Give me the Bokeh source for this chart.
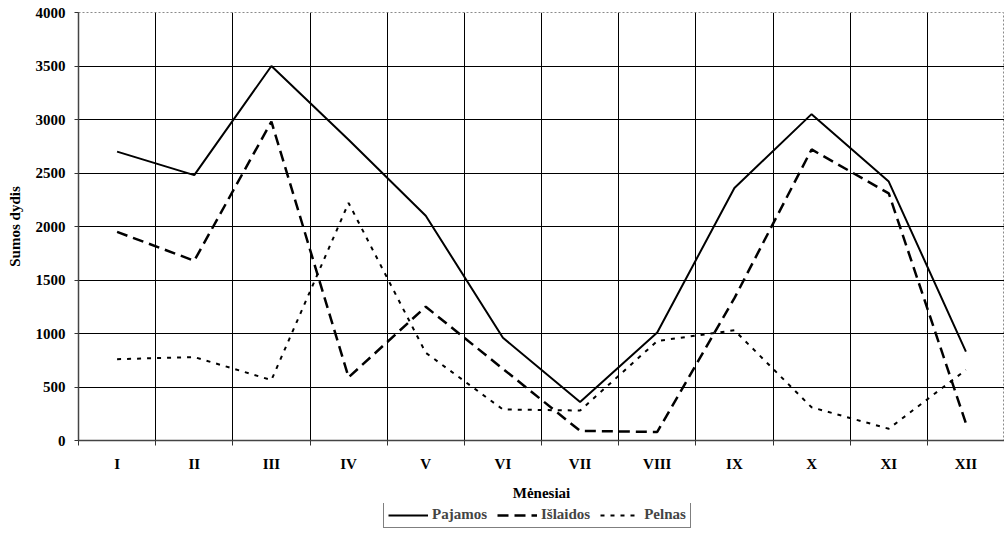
from bokeh.plotting import figure
from bokeh.layouts import column
from bokeh.models import FixedTicker, Range1d, Legend, LegendItem, ColumnDataSource
from bokeh.embed import file_html
from bokeh.resources import INLINE

months = ["I", "II", "III", "IV", "V", "VI", "VII", "VIII", "IX", "X", "XI", "XII"]
pajamos = [2700, 2480, 3500, 2810, 2100, 960, 360, 1010, 2360, 3050, 2420, 830]
islaidos = [1950, 1680, 2980, 590, 1250, 670, 90, 80, 1330, 2720, 2310, 160]
pelnas = [760, 780, 565, 2220, 820, 290, 280, 930, 1030, 310, 110, 660]
y_ticks = [0, 500, 1000, 1500, 2000, 2500, 3000, 3500, 4000]

xs = [i + 0.5 for i in range(len(months))]
src = ColumnDataSource(dict(x=xs, paj=pajamos, isl=islaidos, pel=pelnas))

FONT = "Liberation Serif"

p = figure(frame_width=926, frame_height=428, output_backend="svg", toolbar_location=None,
           x_range=Range1d(0, len(months)), y_range=Range1d(0, 4000),
           min_border_left=78, min_border_right=0, min_border_top=12, min_border_bottom=0)
p.background_fill_color = "white"
p.border_fill_color = "white"
p.outline_line_color = "#8a8a8a"
p.outline_line_dash = "2 2"
p.outline_line_width = 1

# x axis: labels at category centres, tick marks at boundaries
p.xaxis.ticker = FixedTicker(ticks=xs, minor_ticks=list(range(len(months) + 1)))
p.xaxis.major_label_overrides = {x: m for x, m in zip(xs, months)}
p.xaxis.major_tick_out = 0
p.xaxis.major_tick_in = 0
p.xaxis.minor_tick_out = 5
p.xaxis.minor_tick_in = 0
p.xaxis.minor_tick_line_color = "#333333"
p.xaxis.major_label_standoff = 10
p.xaxis.axis_label = "Mėnesiai"
p.xaxis.axis_label_standoff = 10

p.yaxis.ticker = FixedTicker(ticks=y_ticks, minor_ticks=[])
p.yaxis.major_tick_out = 4
p.yaxis.major_tick_in = 0
p.yaxis.major_label_standoff = 9
p.yaxis.axis_label = "Sumos dydis"
p.yaxis.axis_label_standoff = 10

for ax in (p.xaxis, p.yaxis):
    ax.axis_line_color = "#444444"
    ax.axis_line_width = 1.5
    ax.major_tick_line_color = "#333333"
    ax.major_label_text_font = FONT
    ax.major_label_text_font_style = "bold"
    ax.major_label_text_font_size = "15px"
    ax.major_label_text_color = "black"
    ax.axis_label_text_font = FONT
    ax.axis_label_text_font_style = "bold"
    ax.axis_label_text_font_size = "15px"
    ax.axis_label_text_color = "black"

p.xgrid.ticker = FixedTicker(ticks=list(range(1, len(months))))
p.xgrid.grid_line_color = "black"
p.xgrid.grid_line_width = 1
p.ygrid.ticker = FixedTicker(ticks=y_ticks[1:-1])
p.ygrid.grid_line_color = "black"
p.ygrid.grid_line_width = 1

styles = [dict(line_width=2), dict(line_width=2.5, line_dash="11 6"), dict(line_width=2, line_dash="4 6")]
cols = ["paj", "isl", "pel"]
for c, st in zip(cols, styles):
    p.line("x", c, source=src, line_color="black", **st)

# legend strip below the chart (its glyphs fall outside its own y range)
p2 = figure(frame_width=926, frame_height=26, output_backend="svg", toolbar_location=None,
            x_range=Range1d(0, len(months)), y_range=Range1d(-2, -1),
            x_axis_type=None, y_axis_type=None,
            min_border_left=78, min_border_right=0, min_border_top=0, min_border_bottom=0)
p2.outline_line_color = None
p2.xgrid.visible = False
p2.ygrid.visible = False
p2.background_fill_color = "white"
p2.border_fill_color = "white"
rs = [p2.line("x", c, source=src, line_color="black", **st) for c, st in zip(cols, styles)]

legend = Legend(items=[LegendItem(label="Pajamos", renderers=[rs[0]]),
                       LegendItem(label="Išlaidos", renderers=[rs[1]]),
                       LegendItem(label="Pelnas", renderers=[rs[2]])],
                orientation="horizontal", location=(305, 1))
legend.border_line_color = "black"
legend.border_line_width = 1
legend.background_fill_color = "white"
legend.background_fill_alpha = 1
legend.label_text_font = FONT
legend.label_text_font_style = "bold"
legend.label_text_font_size = "15px"
legend.glyph_width = 40
legend.glyph_height = 14
legend.label_standoff = 4
legend.spacing = 10
legend.padding = 4
legend.margin = 0
legend.label_height = 14
p2.add_layout(legend, "center")

layout = column(p, p2, spacing=0)
open("out.html", "w").write(file_html(layout, INLINE))
